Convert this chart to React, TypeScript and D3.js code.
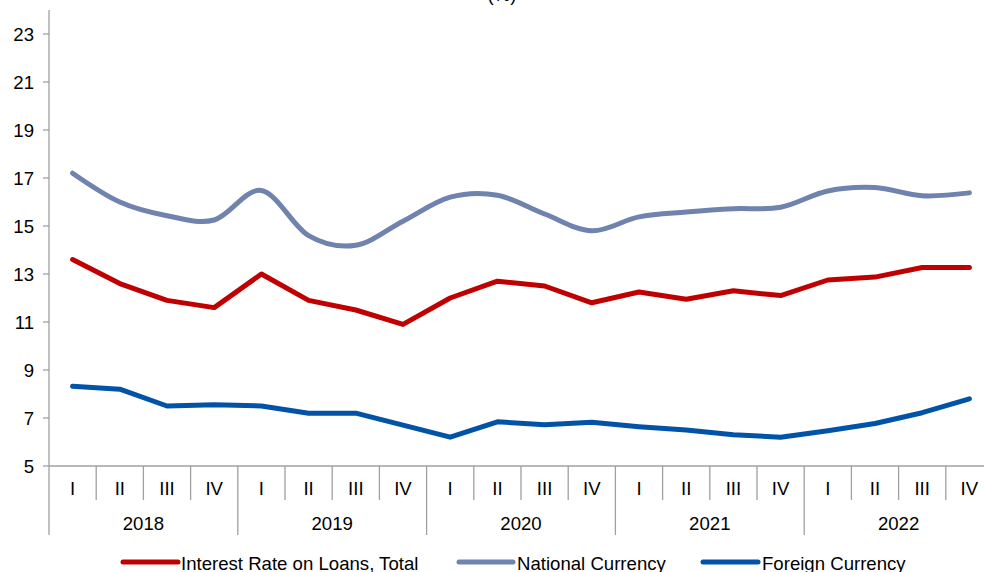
import React from "react";
import * as d3 from "d3";

const years = ["2018", "2019", "2020", "2021", "2022"];
const quarters = ["I", "II", "III", "IV"];
const categories = years.flatMap((y) => quarters.map((q) => `${y} ${q}`));

const totalRate = [13.6, 12.6, 11.9, 11.6, 13.0, 11.9, 11.5, 10.9, 12.0, 12.7, 12.5, 11.8, 12.25, 11.95, 12.3, 12.1, 12.75, 12.87, 13.27, 13.27];
const nationalRate = [17.2, 16.0, 15.43, 15.25, 16.48, 14.6, 14.2, 15.2, 16.2, 16.28, 15.5, 14.8, 15.38, 15.58, 15.72, 15.78, 16.46, 16.6, 16.26, 16.38];
const foreignRate = [8.32, 8.2, 7.5, 7.55, 7.5, 7.2, 7.2, 6.7, 6.2, 6.84, 6.72, 6.82, 6.64, 6.5, 6.3, 6.2, 6.47, 6.77, 7.22, 7.8];

const yTicks = [5, 7, 9, 11, 13, 15, 17, 19, 21, 23];

const series = [
  { name: "Interest Rate on Loans, Total", values: totalRate, color: "#C00000", smooth: false },
  { name: "National Currency", values: nationalRate, color: "#6F83AE", smooth: true },
  { name: "Foreign Currency", values: foreignRate, color: "#0053A6", smooth: false },
];

const W = 984;
const H = 572;
const left = 49;
const right = 993;
const top = 10;
const bottom = 466;
const fs = 18.6;
const font = "'Liberation Sans', Arial, sans-serif";
const axisColor = "#a0a0a0";

export default function App() {
  const x = d3.scaleBand<string>().domain(categories).range([left, right]).padding(0);
  const y = d3.scaleLinear().domain([5, 24]).range([bottom, top]);
  const cx = (i: number) => (x(categories[i]) as number) + x.bandwidth() / 2;

  const legendItems = [
    { x0: 123, x1: 178, tx: 181 },
    { x0: 459, x1: 513, tx: 517 },
    { x0: 703, x1: 758, tx: 762 },
  ];

  return (
    <svg width={W} height={H} style={{ position: "absolute", left: 0, top: 0 }} fontFamily={font}>
      <rect width={W} height={H} fill="#fff" />
      <text x={502} y={1} textAnchor="middle" fontSize={fs} fill="#000">(%)</text>
      {/* y axis */}
      <line x1={left} x2={left} y1={top} y2={bottom} stroke={axisColor} strokeWidth={1.3} />
      {yTicks.map((t) => (
        <g key={t}>
          <line x1={left - 6} x2={left} y1={y(t)} y2={y(t)} stroke={axisColor} strokeWidth={1.3} />
          <text x={34} y={y(t)} dy="0.36em" textAnchor="end" fontSize={fs} fill="#000">{t}</text>
        </g>
      ))}
      {/* x axis */}
      <line x1={left} x2={right} y1={bottom} y2={bottom} stroke={axisColor} strokeWidth={1.3} />
      {categories.map((c, i) => {
        const bx = x(c) as number;
        const isYear = i % 4 === 0;
        return (
          <g key={c}>
            <line x1={bx} x2={bx} y1={bottom} y2={isYear ? 535 : 500} stroke={axisColor} strokeWidth={1.3} />
            <text x={cx(i)} y={488} dy="0.36em" textAnchor="middle" fontSize={fs} fill="#000">{quarters[i % 4]}</text>
          </g>
        );
      })}
      <line x1={right} x2={right} y1={bottom} y2={535} stroke={axisColor} strokeWidth={1.3} />
      {years.map((yr, j) => {
        const x0 = x(categories[j * 4]) as number;
        const x1 = (x(categories[j * 4 + 3]) as number) + x.bandwidth();
        return (
          <text key={yr} x={(x0 + x1) / 2} y={523} dy="0.36em" textAnchor="middle" fontSize={fs} fill="#000">{yr}</text>
        );
      })}
      {/* lines */}
      {series.map((s) => {
        const gen = d3
          .line<number>()
          .x((_, i) => cx(i))
          .y((v) => y(v))
          .curve(s.smooth ? d3.curveCardinal.tension(0) : d3.curveLinear);
        return (
          <path key={s.name} d={gen(s.values) || ""} fill="none" stroke={s.color} strokeWidth={5} strokeLinecap="round" strokeLinejoin="round" />
        );
      })}
      {/* legend */}
      {series.map((s, i) => {
        const L = legendItems[i];
        return (
          <g key={s.name}>
            <line x1={L.x0} x2={L.x1} y1={562} y2={562} stroke={s.color} strokeWidth={5} strokeLinecap="round" />
            <text x={L.tx} y={563} dy="0.36em" fontSize={fs} fill="#000">{s.name}</text>
          </g>
        );
      })}
    </svg>
  );
}
